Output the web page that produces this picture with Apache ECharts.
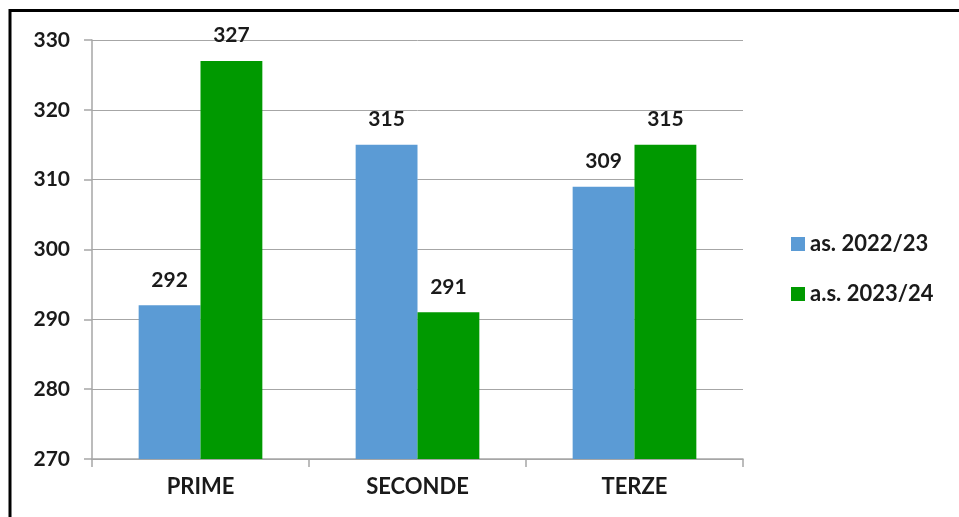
<!DOCTYPE html>
<html><head><meta charset="utf-8">
<script src="https://cdn.jsdelivr.net/npm/echarts@6/dist/echarts.min.js"></script>
<style>html,body{margin:0;padding:0;background:#fff}#c{width:959px;height:517px}</style>
</head><body><div id="c"></div>
<script>
const categories = ['PRIME', 'SECONDE', 'TERZE'];
const seriesNames = ['as. 2022/23', 'a.s. 2023/24'];
const values2022 = [292, 315, 309];
const values2023 = [327, 291, 315];
const yTicks = [270, 280, 290, 300, 310, 320, 330];

const FONT = 'Lato, "Open Sans", sans-serif';
const chart = echarts.init(document.getElementById('c'));
const lbl = {show: true, position: 'top', distance: 15, color: '#1a1a1a', fontWeight: 'bold', fontSize: 21, fontFamily: FONT};
chart.setOption({
  animation: false,
  textStyle: {fontFamily: FONT},
  graphic: [
    {type: 'line', shape: {x1: 10, y1: 9, x2: 10, y2: 517}, style: {stroke: '#000', lineWidth: 3}},
    {type: 'line', shape: {x1: 9, y1: 10.5, x2: 959, y2: 10.5}, style: {stroke: '#000', lineWidth: 3}}
  ],
  grid: {left: 92, right: 216, top: 40, bottom: 58},
  legend: {
    orient: 'vertical', left: 786, top: 228, itemGap: 28, itemWidth: 14, itemHeight: 14,
    icon: 'rect',
    textStyle: {fontSize: 22, fontWeight: 'bold', color: '#1a1a1a', fontFamily: FONT},
    data: seriesNames
  },
  xAxis: {
    type: 'category', data: categories,
    axisLine: {lineStyle: {color: '#a6a6a6', width: 1.5}},
    axisTick: {show: true, length: 8, lineStyle: {color: '#a6a6a6', width: 1.5}},
    axisLabel: {fontSize: 22, fontWeight: 'bold', color: '#1a1a1a', margin: 17, fontFamily: FONT}
  },
  yAxis: {
    type: 'value', min: yTicks[0], max: yTicks[yTicks.length - 1], interval: 10,
    axisLine: {show: true, lineStyle: {color: '#a6a6a6', width: 1.5}},
    axisTick: {show: true, length: 8, lineStyle: {color: '#a6a6a6', width: 1.5}},
    splitLine: {lineStyle: {color: '#a6a6a6', width: 1}},
    axisLabel: {fontSize: 21, fontWeight: 'bold', color: '#1a1a1a', margin: 22, fontFamily: FONT}
  },
  series: [
    {name: seriesNames[0], type: 'bar', data: values2022, barGap: '0%', barCategoryGap: '43%', itemStyle: {color: '#5b9bd5'}, label: lbl},
    {name: seriesNames[1], type: 'bar', data: values2023, itemStyle: {color: '#009900'}, label: lbl}
  ]
});
</script></body></html>
